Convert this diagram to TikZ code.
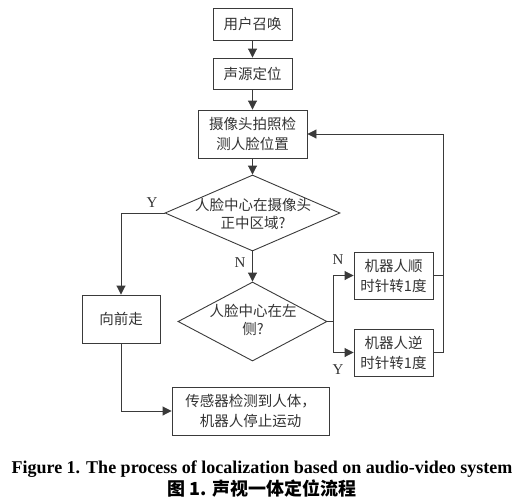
\documentclass[tikz,border=0pt]{standalone}
\usepackage{fontspec}
\setmainfont{Liberation Serif}
\newfontfamily\cjk{Noto Sans CJK SC}
\usetikzlibrary{arrows.meta,shapes.geometric}
\definecolor{ln}{HTML}{3A3A3A}
\definecolor{tx}{HTML}{333333}
\begin{document}
\begin{tikzpicture}[x=1pt,y=-1pt,
  every node/.style={text=tx},
  boxnode/.style={draw=ln,line width=0.9pt,inner sep=0pt,align=center,
    font=\cjk\fontsize{14.5}{20}\selectfont},
  dia/.style={draw=ln,line width=0.9pt,diamond,inner sep=0pt},
  diatext/.style={align=center,font=\cjk\fontsize{14.5}{18}\selectfont,inner sep=0pt},
  conn/.style={draw=ln,line width=0.9pt},
  arr/.style={conn,-{Triangle[length=9pt,width=9pt]}},
  lbl/.style={font=\fontsize{15}{16}\selectfont,inner sep=0pt}]
\useasboundingbox (0,0) rectangle (517,499);
\node[boxnode,minimum width=79pt,minimum height=32pt] (b1) at (252.5,24) {用户召唤};
\node[boxnode,minimum width=79pt,minimum height=31pt] (b2) at (252.5,73.5) {声源定位};
\node[boxnode,minimum width=109pt,minimum height=48pt] (b3) at (252.5,134) {摄像头拍照检\\测人脸位置};
\node[dia,minimum width=175pt,minimum height=76pt] (d1) at (252.5,213) {};
\node[diatext] (t1) at (253,214) {人脸中心在摄像头\\正中区域?};
\node[dia,minimum width=149pt,minimum height=79pt] (d2) at (252.5,321.5) {};
\node[diatext] (t2) at (253,320) {人脸中心在左\\侧?};
\node[boxnode,minimum width=78pt,minimum height=48pt] (fw) at (121,319) {向前走};
\node[boxnode,minimum width=79pt,minimum height=47pt] (r1) at (393.5,275.5) {机器人顺\\时针转1度};
\node[boxnode,minimum width=79pt,minimum height=47pt] (r2) at (393.5,352.5) {机器人逆\\时针转1度};
\node[boxnode,minimum width=157pt,minimum height=48pt] (st) at (250.5,411) {传感器检测到人体，\\机器人停止运动};
\coordinate (ya) at (121,213);
\coordinate (sp) at (333,321.5);
\coordinate (rt) at (443,275.5);
\coordinate (rb) at (443,352.5);
\draw[arr] (b1) -- (b2);
\draw[arr] (b2) -- (b3);
\draw[arr] (b3) -- (d1.north);
\draw[arr] (d1.west) -- (ya) -- (fw.north);
\draw[arr] (d1.south) -- (d2.north);
\draw[conn] (d2.east) -- (sp);
\draw[arr] (sp) |- (r1.west);
\draw[arr] (sp) |- (r2.west);
\draw[conn] (r1.east) -- (rt);
\draw[arr] (r2.east) -- (rb) |- (b3.east);
\draw[arr] (fw.south) |- (st.west);
\node[lbl] (ly1) at (152,203) {Y};
\node[lbl] (ln1) at (240,263) {N};
\node[lbl] (ln2) at (338,260) {N};
\node[lbl] (ly2) at (338,370) {Y};
\node[anchor=base,inner sep=0pt,text=black,font=\bfseries\fontsize{18}{20}\selectfont] (cap1) at (262,473) {Figure 1. The process of localization based on audio-video system};
\node[anchor=base,inner sep=0pt,text=black,font=\cjk\bfseries\fontsize{18}{20}\selectfont] (cap2) at (262,495) {图 1. 声视一体定位流程};
\end{tikzpicture}
\end{document}
